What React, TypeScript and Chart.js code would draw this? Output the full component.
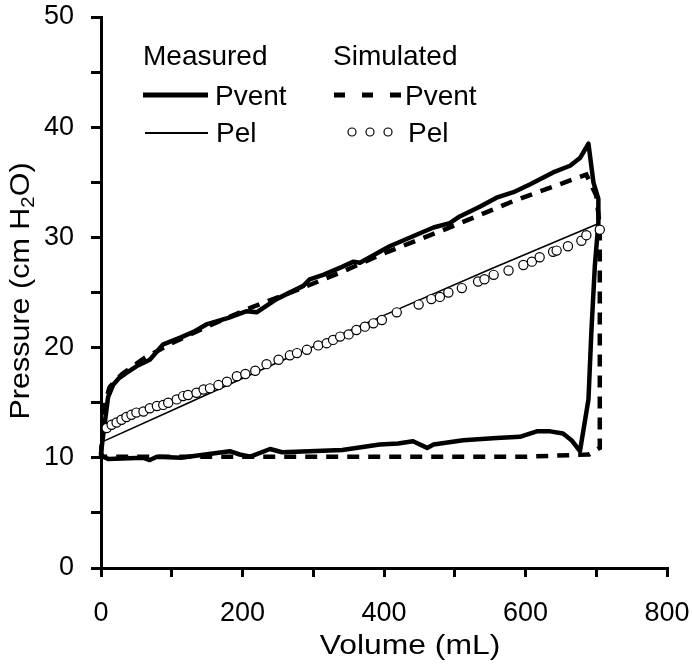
import React, { useEffect, useRef } from 'react';
import { Chart, registerables } from 'chart.js';

Chart.register(...registerables);

const FONT = "'Liberation Sans', Arial, Helvetica, sans-serif";

// X axis ticks (mL) and Y axis ticks (cm H2O)
const xTickValues = [0, 200, 400, 600, 800];
const yTickValues = [0, 10, 20, 30, 40, 50];

// Measured Pvent loop (volume mL, pressure cm H2O)
const measuredPventVolume = [
  0, 2, 6, 10, 17, 25, 36, 50, 69, 88, 112, 130, 149, 180, 206, 220, 248, 286, 295, 314,
  340, 357, 366, 394, 408, 441, 470, 493, 507, 536, 559, 583, 606, 639, 663, 677, 689, 696,
  703, 703, 698, 693, 689, 677, 665, 653, 635, 616, 592, 559, 512, 470, 461, 441, 420, 394,
  341, 256, 239, 211, 196, 182, 113, 79, 69, 60, 10, 3, 0,
];
const measuredPventPressure = [
  10.4, 11.5, 13.5, 15.5, 16.6, 17.2, 17.7, 18.3, 18.9, 20.3, 20.9, 21.4, 22.1, 22.7, 23.3,
  23.2, 24.4, 25.6, 26.2, 26.6, 27.3, 27.8, 27.7, 28.7, 29.2, 30.1, 30.9, 31.3, 31.9, 32.8,
  33.6, 34.1, 34.8, 35.9, 36.5, 37.2, 38.5, 35.0, 33.5, 31.3, 27.4, 21.3, 15.3, 10.6, 11.6,
  12.2, 12.4, 12.4, 11.9, 11.8, 11.6, 11.2, 10.9, 11.5, 11.3, 11.2, 10.7, 10.5, 10.8, 10.1,
  10.3, 10.6, 10.0, 10.1, 9.8, 10.0, 9.9, 10.1, 10.4,
];

// Measured Pel (thin line)
const measuredPelVolume = [0, 100, 248, 399, 550, 705];
const measuredPelPressure = [11.4, 14.3, 18.6, 22.9, 27.1, 31.3];

// Simulated Pvent (dashed)
const simulatedPventVolume = [
  0, 1, 3, 6, 12, 20, 30, 45, 60, 100, 150, 211, 280, 342, 394, 489, 583, 686, 700, 705,
  705, 690, 600, 400, 200, 0,
];
const simulatedPventPressure = [
  10.1, 11.5, 13.0, 15.0, 16.4, 17.0, 17.6, 18.3, 19.0, 20.4, 21.9, 23.6, 25.3, 26.9, 28.4,
  30.8, 33.3, 35.7, 33.8, 31.0, 10.9, 10.3, 10.1, 10.1, 10.1, 10.1,
];

// Simulated Pel (open circles)
const simulatedPelVolume = [
  8, 15, 22, 29, 36, 43, 50, 60, 69, 79, 88, 95, 107, 116, 123, 135, 145, 154, 166, 178, 192,
  204, 218, 234, 251, 267, 277, 291, 307, 319, 328, 338, 350, 361, 373, 385, 397, 418, 449,
  467, 479, 491, 510, 533, 542, 555, 576, 597, 609, 620, 639, 644, 660, 679, 686, 705,
];
const simulatedPelPressure = [
  12.7, 13.0, 13.2, 13.45, 13.7, 13.9, 14.1, 14.2, 14.5, 14.7, 14.8, 15.0, 15.3, 15.6, 15.7,
  15.9, 16.2, 16.3, 16.6, 16.9, 17.4, 17.6, 17.9, 18.5, 18.9, 19.3, 19.5, 19.8, 20.2, 20.4,
  20.7, 21.0, 21.2, 21.6, 21.9, 22.2, 22.5, 23.2, 23.9, 24.4, 24.6, 25.0, 25.4, 26.0, 26.2,
  26.6, 27.0, 27.5, 27.8, 28.2, 28.7, 28.8, 29.2, 29.7, 30.2, 30.7,
];

const legendHeadings = ['Measured', 'Simulated'];
const legendLabels = ['Pvent', 'Pel'];
const xTitle = 'Volume (mL)';
const yTitleParts = ['Pressure (cm H', '2', 'O)'];

function toPoints(xs: number[], ys: number[]) {
  return xs.map((x, i) => ({ x, y: ys[i] }));
}

function zeroPadding(s: any) {
  s.paddingTop = 0;
  s.paddingBottom = 0;
  s.paddingLeft = 0;
  s.paddingRight = 0;
}

const overlayPlugin = {
  id: 'overlay',
  afterDraw(chart: any) {
    const ctx: CanvasRenderingContext2D = chart.ctx;
    ctx.save();
    ctx.fillStyle = '#000';
    ctx.strokeStyle = '#000';
    ctx.textBaseline = 'alphabetic';
    ctx.textAlign = 'left';
    ctx.font = `28px ${FONT}`;
    // Legend headings and labels
    ctx.fillText(legendHeadings[0], 143, 65);
    ctx.fillText(legendHeadings[1], 333, 65);
    ctx.fillText(legendLabels[0], 215, 105);
    ctx.fillText(legendLabels[1], 216, 142);
    ctx.fillText(legendLabels[0], 405, 105);
    ctx.fillText(legendLabels[1], 408, 142);
    // Measured Pvent sample (thick)
    ctx.lineCap = 'butt';
    ctx.lineWidth = 5;
    ctx.beginPath();
    ctx.moveTo(143, 95);
    ctx.lineTo(208, 95);
    ctx.stroke();
    // Measured Pel sample (thin)
    ctx.lineWidth = 1.8;
    ctx.beginPath();
    ctx.moveTo(145, 133);
    ctx.lineTo(208, 133);
    ctx.stroke();
    // Simulated Pvent sample (dashed)
    ctx.lineWidth = 5;
    ctx.setLineDash([11, 17]);
    ctx.beginPath();
    ctx.moveTo(334, 95);
    ctx.lineTo(402, 95);
    ctx.stroke();
    ctx.setLineDash([]);
    // Simulated Pel sample (circles)
    ctx.lineWidth = 1.2;
    [352, 370, 388].forEach((cx) => {
      ctx.beginPath();
      ctx.arc(cx, 132, 4, 0, Math.PI * 2);
      ctx.fillStyle = '#fff';
      ctx.fill();
      ctx.stroke();
    });
    ctx.fillStyle = '#000';

    // X axis title
    ctx.save();
    ctx.translate(410, 654);
    ctx.scale(1.18, 1);
    ctx.font = `27px ${FONT}`;
    ctx.textAlign = 'center';
    ctx.fillText(xTitle, 0, 0);
    ctx.restore();

    // Y axis title with subscript
    ctx.save();
    ctx.translate(29, 291);
    ctx.rotate(-Math.PI / 2);
    ctx.scale(1.13, 1);
    ctx.textAlign = 'left';
    ctx.font = `27px ${FONT}`;
    const w1 = ctx.measureText(yTitleParts[0]).width;
    const w3 = ctx.measureText(yTitleParts[2]).width;
    ctx.font = `18px ${FONT}`;
    const w2 = ctx.measureText(yTitleParts[1]).width;
    let x = -(w1 + w2 + w3) / 2;
    ctx.font = `27px ${FONT}`;
    ctx.fillText(yTitleParts[0], x, 0);
    x += w1;
    ctx.font = `18px ${FONT}`;
    ctx.fillText(yTitleParts[1], x, 5);
    x += w2;
    ctx.font = `27px ${FONT}`;
    ctx.fillText(yTitleParts[2], x, 0);
    ctx.restore();

    ctx.restore();
  },
};

export default function App() {
  const canvasRef = useRef<HTMLCanvasElement | null>(null);

  useEffect(() => {
    if (!canvasRef.current) return;
    Chart.defaults.font.family = FONT;
    const chart = new Chart(canvasRef.current, {
      type: 'scatter',
      data: {
        datasets: [
          {
            label: 'Simulated Pel',
            data: toPoints(simulatedPelVolume, simulatedPelPressure),
            showLine: false,
            pointRadius: 4.6,
            pointBorderWidth: 1.2,
            pointBackgroundColor: '#fff',
            pointBorderColor: '#000',
            clip: false,
          },
          {
            label: 'Measured Pvent',
            data: toPoints(measuredPventVolume, measuredPventPressure),
            showLine: true,
            borderColor: '#000',
            borderWidth: 4.5,
            pointRadius: 0,
            tension: 0,
            borderJoinStyle: 'round',
            borderCapStyle: 'round',
            clip: false,
          },
          {
            label: 'Simulated Pvent',
            data: toPoints(simulatedPventVolume, simulatedPventPressure),
            showLine: true,
            borderColor: '#000',
            borderWidth: 4.5,
            borderDash: [12, 9],
            pointRadius: 0,
            tension: 0,
            clip: false,
          },
          {
            label: 'Measured Pel',
            data: toPoints(measuredPelVolume, measuredPelPressure),
            showLine: true,
            borderColor: '#000',
            borderWidth: 1.6,
            pointRadius: 0,
            tension: 0,
            clip: false,
          },
        ],
      },
      options: {
        animation: false,
        responsive: false,
        events: [],
        layout: { autoPadding: false, padding: { left: 0, right: 25, top: 17, bottom: 0 } },
        plugins: {
          legend: { display: false },
          tooltip: { enabled: false },
        },
        scales: {
          x: {
            type: 'linear',
            min: xTickValues[0],
            max: xTickValues[xTickValues.length - 1],
            afterFit: (s: any) => {
              s.height = 98;
              zeroPadding(s);
            },
            ticks: {
              stepSize: 100,
              autoSkip: false,
              maxRotation: 0,
              padding: 20,
              color: '#000',
              font: { size: 27, family: FONT },
              callback: (v: any) => (xTickValues.includes(Number(v)) ? String(v) : ''),
            },
            grid: {
              drawOnChartArea: false,
              drawTicks: true,
              tickLength: 9,
              tickWidth: 3,
              tickColor: '#000',
              lineWidth: 3,
              color: '#000',
            },
            border: { display: true, color: '#000', width: 3 },
          },
          y: {
            type: 'linear',
            min: yTickValues[0],
            max: yTickValues[yTickValues.length - 1],
            afterFit: (s: any) => {
              s.width = 101;
              zeroPadding(s);
            },
            ticks: {
              stepSize: 5,
              autoSkip: false,
              padding: 17,
              color: '#000',
              font: { size: 27, family: FONT },
              callback: (v: any) => (yTickValues.includes(Number(v)) ? String(v) : ''),
            },
            grid: {
              drawOnChartArea: false,
              drawTicks: true,
              tickLength: 10,
              tickWidth: 3,
              tickColor: '#000',
              lineWidth: 3,
              color: '#000',
            },
            border: { display: true, color: '#000', width: 3 },
          },
        },
      },
      plugins: [overlayPlugin],
    });
    return () => chart.destroy();
  }, []);

  return (
    <div style={{ position: 'absolute', left: 0, top: 0, width: 692, height: 666, background: '#fff' }}>
      <canvas ref={canvasRef} width={692} height={666} style={{ display: 'block' }} />
    </div>
  );
}
